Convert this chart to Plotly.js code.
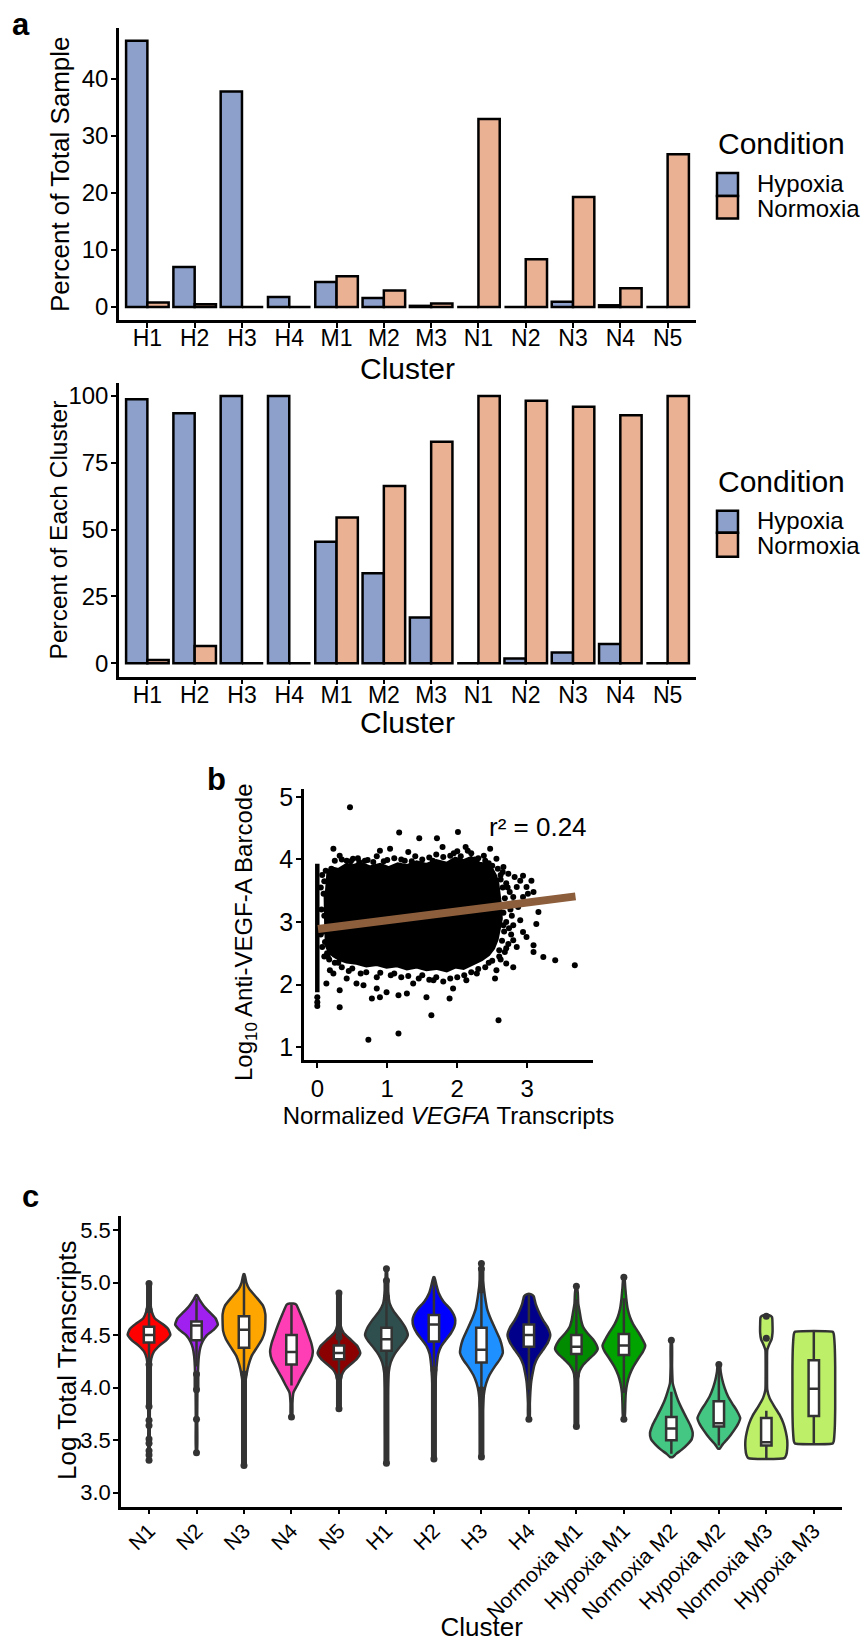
<!DOCTYPE html>
<html><head><meta charset="utf-8">
<script src="https://cdn.plot.ly/plotly-3.0.1.min.js"></script>
<style>html,body{margin:0;padding:0;background:#fff}#chart{width:861px;height:1642px}</style>
</head><body><div id="chart"></div>
<script>
// ---------- Panel a data ----------
const barClusters = ['H1','H2','H3','H4','M1','M2','M3','N1','N2','N3','N4','N5'];
const pctTotalHypoxia   = [46.7, 7.0, 37.8, 1.75, 4.4, 1.6, 0.2, 0, 0, 0.9, 0.3, 0];
const pctTotalNormoxia  = [0.8, 0.5, 0, 0, 5.4, 2.9, 0.6, 33.0, 8.4, 19.3, 3.3, 26.8];
const pctClusterHypoxia = [98.8, 93.5, 100, 100, 45.5, 33.7, 17.1, 0, 1.8, 4.0, 7.2, 0];
const pctClusterNormoxia= [1.2, 6.5, 0, 0, 54.5, 66.3, 82.9, 100, 98.2, 96.0, 92.8, 100];
const conditionNames = ['Hypoxia','Normoxia'];
const conditionColors = ['#8DA0CB','#EBB193'];

// ---------- Panel b data ----------
const fitX = [0.01, 3.69];
const fitY = [2.89, 3.41];
const zeroColumnY = [1.88, 3.93];
const zeroDotsY = [1.80, 1.72, 1.66];
const denseCoreX = [0.13,0.22,0.30,0.42,0.51,0.62,0.75,0.90,1.02,1.15,1.28,1.42,1.56,1.70,1.85,1.97,2.09,2.20,2.32,2.42,2.50,2.55,2.58,2.60,2.62,2.63,2.60,2.57,2.52,2.45,2.35,2.20,2.09,1.97,1.85,1.70,1.56,1.42,1.28,1.14,0.99,0.85,0.70,0.56,0.42,0.32,0.23,0.17,0.13,0.12,0.12,0.11];
const denseCoreY = [3.80,3.86,3.84,3.92,3.90,3.94,3.88,3.92,3.87,3.93,3.90,3.96,3.92,3.98,3.94,4.02,3.98,4.03,3.94,3.92,3.84,3.74,3.62,3.45,3.25,3.05,2.88,2.72,2.58,2.48,2.40,2.32,2.26,2.28,2.22,2.26,2.24,2.28,2.25,2.30,2.28,2.32,2.30,2.34,2.36,2.40,2.46,2.52,2.62,2.90,3.20,3.50];
const pointsX = [0.467,1.17,2.01,1.457,1.71,2.47,0.23,1.04,0.895,1.30,1.79,2.12,0.32,0.51,0.68,2.56,2.66,2.73,2.82,2.94,2.90,3.06,2.85,2.99,2.80,2.94,3.01,3.09,2.87,3.16,2.90,3.13,2.94,2.99,2.80,2.85,3.09,3.09,3.23,3.40,3.68,2.80,2.70,2.56,2.54,2.59,2.28,2.13,1.94,1.89,1.66,1.56,1.63,1.37,1.28,1.16,1.16,0.99,0.895,0.78,0.73,0.85,0.66,0.56,0.32,0.32,0.42,0.23,0.13,0.18,
  0.42,0.60,0.80,1.00,1.20,1.40,1.60,1.70,1.90,2.00,2.20,2.30,2.40,2.50,2.62,2.72,2.76,2.74,2.70,2.62,
  0.50,0.70,0.90,1.10,1.30,1.50,1.70,1.90,2.10,2.30,2.45,0.30,0.15,
  0.07,0.05,0.06,0.05,0.07,0.10,0.20,0.12,
  0.25,0.35,0.48,0.58,0.72,0.85,0.95,1.10,1.25,1.35,1.50,1.65,1.80,1.95,2.05,2.15,2.25,2.38,2.45,
  2.65,2.70,2.75,2.80,2.78,2.80,2.77,2.73,2.68,2.60,2.50,
  2.40,2.20,2.00,1.80,1.60,1.45,1.20,1.05,0.85,0.62,0.45,0.35,0.25,0.17,
  0.10,0.09,0.10,0.09,0.11,0.14,
  2.65,2.68,2.66,2.70,2.67,2.64,2.60,2.62,2.58,2.66];
const pointsY = [4.835,4.43,4.44,4.34,4.34,4.17,4.17,4.17,4.14,4.12,4.20,4.20,4.06,4.01,3.98,4.01,3.88,3.77,3.72,3.74,3.66,3.66,3.56,3.56,3.40,3.40,3.45,3.48,3.24,3.16,3.03,2.97,2.84,2.76,2.71,2.60,2.63,2.52,2.44,2.39,2.31,2.28,2.34,2.23,2.10,1.43,2.18,2.07,1.94,1.78,2.07,1.80,1.51,2.02,1.86,1.83,1.22,1.88,1.80,1.78,1.12,1.94,1.99,2.02,1.91,1.64,2.10,2.18,2.02,2.23,
  3.98,3.96,3.96,3.99,4.00,4.05,4.03,4.08,4.06,4.13,4.10,4.02,3.98,3.90,3.75,3.55,3.20,2.90,2.58,2.40,
  2.26,2.20,2.19,2.18,2.14,2.15,2.12,2.10,2.15,2.25,2.35,2.35,2.45,
  3.75,3.55,3.20,2.80,2.60,2.45,3.85,3.82,
  3.98,4.00,3.97,4.02,3.99,4.05,3.97,4.02,3.98,3.97,4.00,3.98,4.04,4.10,4.05,4.14,4.00,4.06,3.94,
  3.80,3.62,3.48,3.30,3.10,2.95,2.80,2.65,2.52,2.45,2.38,
  2.28,2.20,2.12,2.05,2.08,2.10,2.12,2.15,2.12,2.18,2.22,2.28,2.35,2.40,
  3.65,3.45,3.10,2.85,2.68,2.50,
  3.55,3.38,3.15,3.00,2.85,2.70,2.55,3.68,3.85,2.95];
const rSquaredText = 'r\u00B2 = 0.24';

// ---------- Panel c data ----------
const violinClusters = ['N1','N2','N3','N4','N5','H1','H2','H3','H4','Normoxia M1','Hypoxia M1','Normoxia M2','Hypoxia M2','Normoxia M3','Hypoxia M3'];
const violinColors = ['#FF0000','#A020F0','#FFA500','#FF3DB5','#8B0000','#2F4F4F','#0000FF','#1E90FF','#00008B','#008B00','#00A300','#43C783','#43C783','#BEEF68','#BEEF68'];
const violinY = [
  [4.97,4.80,4.72,4.66,4.61,4.56,4.505,4.45,4.40,4.34,4.28,4.20,4.00,3.60,3.32],
  [4.88,4.84,4.78,4.72,4.66,4.60,4.55,4.50,4.44,4.38,4.30,4.20,4.00,3.70,3.38],
  [5.08,5.00,4.94,4.86,4.78,4.70,4.62,4.54,4.46,4.38,4.30,4.22,4.14,4.05,3.80,3.27],
  [4.80,4.79,4.70,4.60,4.50,4.42,4.34,4.26,4.18,4.10,4.02,3.95,3.85,3.72],
  [4.88,4.60,4.52,4.46,4.40,4.33,4.27,4.22,4.17,4.12,4.05,3.95,3.82],
  [5.13,4.95,4.88,4.80,4.72,4.64,4.57,4.50,4.44,4.38,4.31,4.24,4.15,4.00,3.30],
  [5.05,4.98,4.90,4.82,4.75,4.69,4.64,4.58,4.52,4.46,4.40,4.32,4.22,4.10,3.80,3.32],
  [5.18,5.05,4.95,4.85,4.75,4.65,4.55,4.46,4.38,4.33,4.27,4.20,4.12,4.04,3.96,3.80,3.34],
  [4.89,4.87,4.80,4.72,4.64,4.57,4.50,4.43,4.36,4.29,4.22,4.14,4.06,3.95,3.85,3.70],
  [4.96,4.90,4.80,4.72,4.64,4.58,4.52,4.46,4.41,4.37,4.32,4.27,4.22,4.16,4.08,3.90,3.63],
  [5.05,4.95,4.85,4.75,4.67,4.60,4.53,4.46,4.40,4.34,4.28,4.20,4.12,4.04,3.95,3.85,3.70],
  [4.45,4.20,4.04,3.96,3.88,3.80,3.72,3.64,3.57,3.51,3.46,3.41,3.37,3.34],
  [4.22,4.15,4.08,4.00,3.92,3.85,3.78,3.71,3.65,3.60,3.55,3.50,3.46,3.42],
  [4.69,4.67,4.60,4.52,4.46,4.41,4.36,4.25,4.10,3.98,3.90,3.82,3.74,3.66,3.58,3.50,3.42,3.36,3.33],
  [4.53,4.51,4.40,4.20,4.00,3.80,3.60,3.49,3.47]
];
const violinHalfWidth = [
  [0.01,0.03,0.06,0.12,0.27,0.40,0.45,0.36,0.22,0.10,0.05,0.03,0.02,0.015,0.01],
  [0.01,0.06,0.15,0.27,0.40,0.45,0.36,0.22,0.13,0.08,0.05,0.035,0.02,0.015,0.01],
  [0.01,0.05,0.11,0.26,0.40,0.45,0.45,0.44,0.38,0.27,0.16,0.10,0.06,0.03,0.02,0.01],
  [0.04,0.10,0.19,0.28,0.36,0.42,0.45,0.41,0.31,0.21,0.12,0.04,0.02,0.015],
  [0.01,0.03,0.10,0.24,0.38,0.45,0.37,0.24,0.12,0.06,0.03,0.02,0.01],
  [0.01,0.02,0.04,0.07,0.16,0.30,0.40,0.45,0.38,0.27,0.16,0.09,0.05,0.03,0.01],
  [0.01,0.05,0.10,0.20,0.34,0.42,0.45,0.43,0.36,0.26,0.16,0.09,0.06,0.04,0.02,0.01],
  [0.01,0.02,0.05,0.08,0.12,0.20,0.30,0.39,0.44,0.45,0.39,0.28,0.17,0.10,0.06,0.03,0.01],
  [0.04,0.10,0.14,0.21,0.30,0.40,0.45,0.40,0.30,0.19,0.12,0.08,0.05,0.03,0.02,0.015],
  [0.01,0.03,0.04,0.07,0.10,0.14,0.23,0.35,0.42,0.45,0.38,0.26,0.15,0.07,0.03,0.02,0.01],
  [0.01,0.03,0.05,0.08,0.13,0.20,0.30,0.39,0.45,0.40,0.31,0.20,0.12,0.07,0.04,0.03,0.015],
  [0.01,0.015,0.03,0.08,0.14,0.22,0.31,0.40,0.45,0.43,0.34,0.22,0.10,0.03],
  [0.02,0.04,0.07,0.12,0.19,0.28,0.38,0.45,0.40,0.33,0.25,0.16,0.08,0.02],
  [0.06,0.12,0.13,0.13,0.11,0.06,0.02,0.015,0.015,0.02,0.07,0.17,0.28,0.36,0.41,0.44,0.44,0.42,0.38],
  [0.40,0.42,0.44,0.45,0.45,0.45,0.44,0.42,0.40]
];
const boxQ1     = [4.43,4.45,4.38,4.22,4.27,4.35,4.44,4.24,4.39,4.32,4.31,3.50,3.63,3.45,3.73];
const boxMedian = [4.50,4.59,4.55,4.34,4.33,4.46,4.60,4.36,4.50,4.39,4.40,3.61,3.66,3.48,3.99];
const boxQ3     = [4.58,4.63,4.68,4.50,4.40,4.57,4.69,4.57,4.60,4.50,4.51,3.72,3.87,3.71,4.26];
const boxLower  = [4.22,4.20,4.13,4.02,4.10,4.17,4.17,3.97,3.98,4.12,3.95,3.37,3.45,3.33,3.47];
const boxUpper  = [4.76,4.85,5.05,4.79,4.48,4.86,5.02,4.92,4.88,4.84,4.85,3.96,4.20,3.78,4.53];
// dense runs of outlier points: [cluster index, low, high]
const outlierRuns = [[0,4.74,4.99],[0,3.82,4.22],[1,3.98,4.13],[2,3.26,4.13],[4,4.48,4.90],[4,3.80,4.10],
  [5,4.86,5.02],[5,3.28,4.17],[6,3.32,4.17],[7,4.93,5.13],[7,3.34,3.98],[9,3.63,4.12]];
const outlierIdx = [0,0,0,0,0,0,0,1,1,3,5,7,8,9,10,10,11,12,13,13];
const outlierVal = [3.69,3.64,3.51,3.47,3.40,3.36,3.31,3.70,3.38,3.72,5.13,5.18,3.70,4.965,5.05,3.70,4.45,4.22,4.68,4.47];

// ---------- page helpers (layout only) ----------
const PW = 861, PH = 1642;
const px = v => v / PW, py = v => 1 - v / PH;
const FONT = 'Liberation Sans, Arial, Helvetica, sans-serif';
const INK = '#333333';

const traces = [];
// Panel a bars
[[pctTotalHypoxia, pctTotalNormoxia, 'x', 'y'], [pctClusterHypoxia, pctClusterNormoxia, 'x2', 'y2']].forEach(([h, n, xa, ya]) => {
  [h, n].forEach((vals, k) => traces.push({
    type: 'bar', x: barClusters, y: vals, name: conditionNames[k], xaxis: xa, yaxis: ya,
    marker: {color: conditionColors[k], line: {color: '#000', width: 2.5}},
    showlegend: false, hoverinfo: 'x+y+name'
  }));
});
// Panel b
traces.push({type: 'scatter', x: denseCoreX, y: denseCoreY, xaxis: 'x3', yaxis: 'y3', mode: 'lines', fill: 'toself',
  fillcolor: '#000', line: {color: '#000', width: 3}, showlegend: false, hoverinfo: 'skip'});
traces.push({type: 'scatter', x: [0, 0], y: zeroColumnY, xaxis: 'x3', yaxis: 'y3', mode: 'lines',
  line: {color: '#000', width: 4.5}, showlegend: false, hoverinfo: 'skip'});
traces.push({type: 'scatter', x: zeroDotsY.map(() => 0), y: zeroDotsY, xaxis: 'x3', yaxis: 'y3', mode: 'markers',
  marker: {color: '#000', size: 6}, showlegend: false});
traces.push({type: 'scatter', x: pointsX, y: pointsY, xaxis: 'x3', yaxis: 'y3', mode: 'markers',
  marker: {color: '#000', size: 6}, showlegend: false});
traces.push({type: 'scatter', x: fitX, y: fitY, xaxis: 'x3', yaxis: 'y3', mode: 'lines',
  line: {color: '#8D5E3C', width: 8}, showlegend: false});
// Panel c violins
violinClusters.forEach((name, i) => {
  const ys = violinY[i], ws = violinHalfWidth[i];
  const xs = [], yy = [];
  for (let j = 0; j < ys.length; j++) { xs.push(i + ws[j]); yy.push(ys[j]); }
  for (let j = ys.length - 1; j >= 0; j--) { xs.push(i - ws[j]); yy.push(ys[j]); }
  xs.push(xs[0]); yy.push(yy[0]);
  traces.push({type: 'scatter', x: xs, y: yy, xaxis: 'x4', yaxis: 'y4', mode: 'lines', fill: 'toself',
    fillcolor: violinColors[i], line: {color: INK, width: 2.5, shape: 'spline', smoothing: 0.5},
    name: name, showlegend: false, hoveron: 'fills'});
});
const runX = [], runY = [];
outlierRuns.forEach(([i, lo, hi]) => { runX.push(i, i, null); runY.push(lo, hi, null); });
traces.push({type: 'scatter', x: runX, y: runY, xaxis: 'x4', yaxis: 'y4', mode: 'lines+markers',
  line: {color: INK, width: 6}, marker: {color: INK, size: 7}, showlegend: false, hoverinfo: 'skip'});
traces.push({type: 'scatter', x: outlierIdx, y: outlierVal, xaxis: 'x4', yaxis: 'y4', mode: 'markers',
  marker: {color: INK, size: 7}, showlegend: false});
traces.push({type: 'box', x: violinClusters.map((_, i) => i), q1: boxQ1, median: boxMedian, q3: boxQ3,
  lowerfence: boxLower, upperfence: boxUpper, xaxis: 'x4', yaxis: 'y5', width: 0.22, whiskerwidth: 0,
  fillcolor: '#FFFFFF', line: {color: INK, width: 2.5}, boxpoints: false, showlegend: false});

const axBase = {showline: true, linecolor: '#000', linewidth: 2.5, ticks: 'outside', ticklen: 5, tickwidth: 2,
  tickcolor: '#000', showgrid: false, zeroline: false, tickfont: {size: 23, color: '#000', family: FONT}};
const t = (text, size, standoff) => ({text, font: {size, color: '#000', family: FONT}, standoff});
const tf = size => ({size, color: '#000', family: FONT});

const layout = {
  width: PW, height: PH, margin: {l: 0, r: 0, t: 0, b: 0}, paper_bgcolor: '#fff', plot_bgcolor: 'rgba(0,0,0,0)',
  font: {family: FONT, color: '#000'}, barmode: 'group', bargap: 0.1, bargroupgap: 0, showlegend: false,
  xaxis: Object.assign({}, axBase, {domain: [px(119), px(696)], anchor: 'y', type: 'category', range: [-0.6, 11.6], ticklabelstandoff: -9}),
  yaxis: Object.assign({}, axBase, {domain: [py(320), py(28)], anchor: 'x', range: [-2.28, 48.95], tickvals: [0,10,20,30,40], ticklabelstandoff: -2, tickfont: tf(24)}),
  xaxis2: Object.assign({}, axBase, {domain: [px(119), px(696)], anchor: 'y2', type: 'category', range: [-0.6, 11.6], ticklabelstandoff: -9}),
  yaxis2: Object.assign({}, axBase, {domain: [py(676.7), py(382.7)], anchor: 'x2', range: [-5.01, 104.97], tickvals: [0,25,50,75,100], ticklabelstandoff: -2, tickfont: tf(24)}),
  xaxis3: Object.assign({}, axBase, {domain: [px(304), px(593)], anchor: 'y3', range: [-0.19, 3.94], tickvals: [0,1,2,3], tickfont: tf(24), title: t('Normalized <i>VEGFA</i> Transcripts', 24, 0)}),
  yaxis3: Object.assign({}, axBase, {domain: [py(1060), py(789.3)], anchor: 'x3', range: [0.797, 5.12], tickvals: [1,2,3,4,5], ticklabelstandoff: -2, tickfont: tf(25)}),
  xaxis4: Object.assign({}, axBase, {domain: [px(121), px(842.3)], anchor: 'y4', range: [-0.59, 14.6], tickvals: violinClusters.map((_, i) => i), ticktext: violinClusters, tickangle: -45, ticklabelstandoff: -4, tickfont: tf(21), title: t('Cluster', 26, 8)}),
  yaxis4: Object.assign({}, axBase, {domain: [py(1506.7), py(1216)], anchor: 'x4', range: [2.867, 5.633], tickvals: [3,3.5,4,4.5,5,5.5], tickformat: '.1f', ticklabelstandoff: -2, tickfont: tf(22)}),
  yaxis5: {overlaying: 'y4', anchor: 'x4', range: [2.867, 5.633], visible: false, showgrid: false, zeroline: false},
  annotations: [],
  shapes: []
};
// axis titles placed as text
[['Percent of Total Sample', 60, 174, 26, -90], ['Percent of Each Cluster', 58.7, 529.7, 24.5, -90],
 ['Log<sub>10</sub> Anti-VEGF-A Barcode', 245, 932, 24, -90], ['Log Total Transcripts', 67, 1361, 26, -90],
 ['Cluster', 407.5, 368.5, 30, 0], ['Cluster', 407.5, 722, 30, 0]].forEach(([s, x, y, f, a]) =>
  layout.annotations.push({text: s, x: px(x), y: py(y), xref: 'paper', yref: 'paper', showarrow: false, textangle: a,
    xanchor: 'center', yanchor: 'middle', font: tf(f)}));
// panel letters
[['a', 21, 24], ['b', 217, 779], ['c', 30, 1196]].forEach(([s, x, y]) => layout.annotations.push({
  text: '<b>' + s + '</b>', x: px(x), y: py(y), xref: 'paper', yref: 'paper', showarrow: false,
  xanchor: 'center', yanchor: 'middle', font: tf(31)}));
// legends (Condition) for the two bar charts
[[144, 173, 196, 218.5], [481.7, 510.7, 532.7, 556.7]].forEach(([ty, s0, s1, s2]) => {
  layout.annotations.push({text: 'Condition', x: px(716), y: py(ty), xref: 'paper', yref: 'paper', showarrow: false,
    xanchor: 'left', yanchor: 'middle', font: tf(30)});
  [[s0, s1], [s1, s2]].forEach(([a, b], k) => {
    layout.shapes.push({type: 'rect', xref: 'paper', yref: 'paper', x0: px(717), x1: px(738), y0: py(b), y1: py(a),
      fillcolor: conditionColors[k], line: {color: '#000', width: 2.5}});
    layout.annotations.push({text: conditionNames[k], x: px(755), y: py((a + b) / 2 + (k ? 1 : -1)), xref: 'paper', yref: 'paper', showarrow: false,
      xanchor: 'left', yanchor: 'middle', font: tf(24)});
  });
});
layout.annotations.push({text: rSquaredText, x: 2.42, y: 4.51, xref: 'x3', yref: 'y3', showarrow: false,
  xanchor: 'left', yanchor: 'middle', font: tf(26)});

Plotly.newPlot('chart', traces, layout, {displayModeBar: false, responsive: false});
</script>
</body></html>
